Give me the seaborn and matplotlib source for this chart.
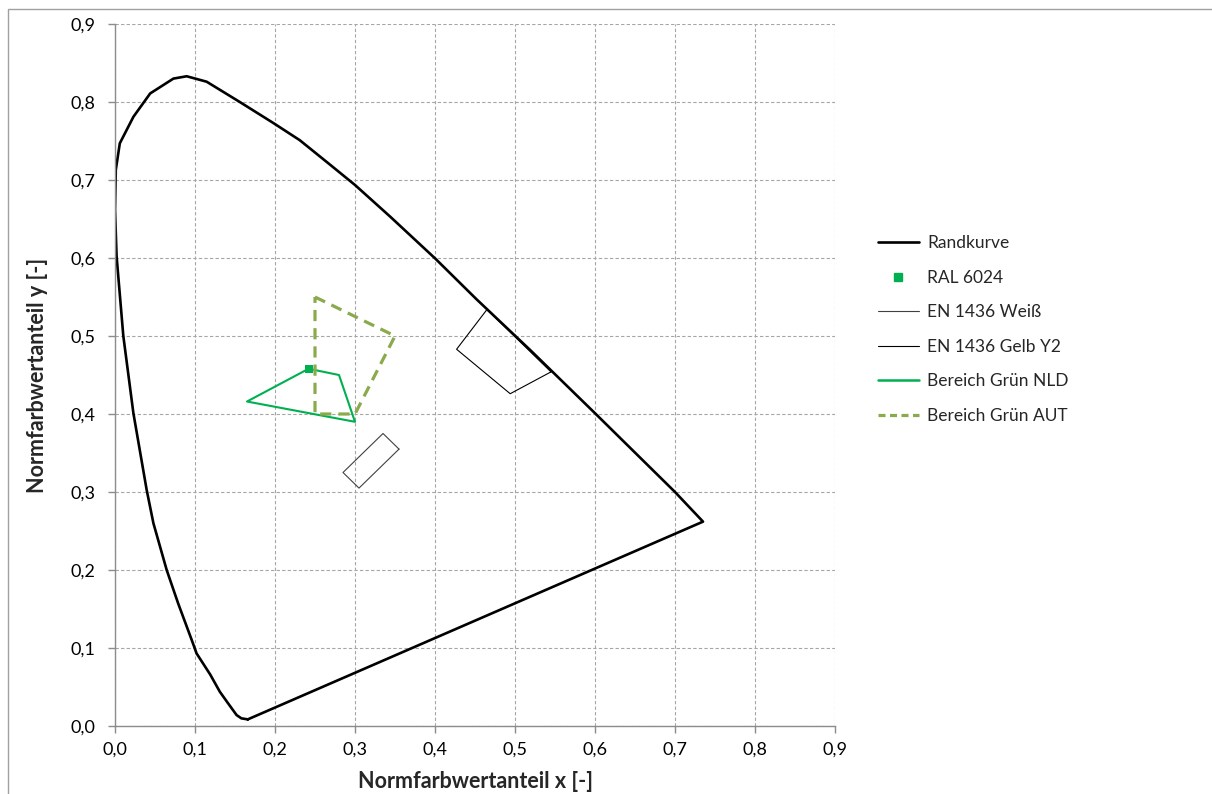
import matplotlib
matplotlib.use("Agg")
import matplotlib.pyplot as plt
import matplotlib.patches as mpatches
from matplotlib.lines import Line2D
from matplotlib.ticker import FuncFormatter
import seaborn as sns
import pandas as pd

# --- Data ---------------------------------------------------------------
# Spectral locus (Randkurve), closed by the purple line
rand_x = [0.166, 0.158, 0.152, 0.140, 0.131, 0.119, 0.102, 0.096, 0.079,
          0.0646, 0.048, 0.0396, 0.023, 0.0104, 0.002, 0.000, 0.001, 0.006,
          0.023, 0.044, 0.073, 0.0896, 0.1146, 0.156, 0.198, 0.231, 0.269,
          0.300, 0.344, 0.400, 0.452, 0.519, 0.600, 0.700, 0.735, 0.166]
rand_y = [0.0085, 0.0098, 0.014, 0.031, 0.044, 0.066, 0.093, 0.110, 0.157,
          0.200, 0.260, 0.3026, 0.401, 0.500, 0.602, 0.662, 0.713, 0.747,
          0.781, 0.811, 0.830, 0.833, 0.826, 0.800, 0.773, 0.751, 0.7195,
          0.6936, 0.653, 0.5996, 0.547, 0.482, 0.401, 0.300, 0.262, 0.0085]

ral_x = [0.242]
ral_y = [0.458]

weiss_x = [0.355, 0.305, 0.285, 0.335, 0.355]
weiss_y = [0.355, 0.305, 0.325, 0.375, 0.355]

gelb_x = [0.545, 0.494, 0.427, 0.465, 0.545]
gelb_y = [0.454, 0.426, 0.483, 0.534, 0.454]

nld_x = [0.242, 0.280, 0.300, 0.165, 0.242]
nld_y = [0.458, 0.450, 0.390, 0.416, 0.458]

aut_x = [0.250, 0.350, 0.300, 0.250, 0.250]
aut_y = [0.550, 0.500, 0.400, 0.400, 0.550]

ticks = [0.0, 0.1, 0.2, 0.3, 0.4, 0.5, 0.6, 0.7, 0.8, 0.9]

# --- Style --------------------------------------------------------------
sns.set_theme(style="white")
plt.rcParams['font.family'] = ['Lato', 'DejaVu Sans']

GREEN = "#00B050"
OLIVE = "#8AAA4C"
GRID = "#A6A6A6"
SPINE = "#8C8C8C"

fig = plt.figure(figsize=(12.12, 7.94), dpi=100)
ax = fig.add_axes([115/1212, 1-726/794, 720/1212, 702/794])

# outer chart border
fig.patches.append(mpatches.Rectangle((8/1212, -0.5), 2.0, 1 - 9/794 + 0.5,
                                      transform=fig.transFigure, fill=False,
                                      edgecolor="#A0A0A0", linewidth=1.0))

def poly(x, y, **kw):
    df = pd.DataFrame({"x": x, "y": y})
    sns.lineplot(data=df, x="x", y="y", sort=False, estimator=None, ax=ax, **kw)

poly(rand_x, rand_y, color="black", linewidth=1.9, label="Randkurve")
ax.lines[-1].set_solid_joinstyle("round")
poly(weiss_x, weiss_y, color="#404040", linewidth=0.8, label="EN 1436 Weiß")
poly(gelb_x, gelb_y, color="black", linewidth=0.8, label="EN 1436 Gelb Y2")
poly(nld_x, nld_y, color=GREEN, linewidth=1.5, label="Bereich Grün NLD")
sns.lineplot(x=aut_x, y=aut_y, sort=False, estimator=None, ax=ax,
             color=OLIVE, linewidth=2.3, label="Bereich Grün AUT")
ax.lines[-1].set_dashes([3.5, 2.2])
sns.scatterplot(x=ral_x, y=ral_y, ax=ax, marker="s", s=40, color=GREEN,
                edgecolor=GREEN, linewidth=0, zorder=5, label="RAL 6024")

ax.set_xlim(0, 0.9)
ax.set_ylim(0, 0.9)
ax.set_xticks(ticks)
ax.set_yticks(ticks)
fmt = FuncFormatter(lambda v, p: f"{v:.1f}".replace(".", ","))
ax.xaxis.set_major_formatter(fmt)
ax.yaxis.set_major_formatter(fmt)
ax.tick_params(axis="both", which="major", labelsize=13, length=5,
               width=1, color=SPINE, direction="out", labelcolor="black",
               bottom=True, left=True, pad=6)
ax.tick_params(axis="y", pad=9)
ax.grid(True, linestyle=(0, (3, 2)), color=GRID, linewidth=0.8)
ax.set_axisbelow(True)
for s in ["top", "right"]:
    ax.spines[s].set_visible(False)
for s in ["left", "bottom"]:
    ax.spines[s].set_color(SPINE)
    ax.spines[s].set_linewidth(1.0)

ax.set_xlabel("Normfarbwertanteil x [-]", fontsize=15.5, fontweight="bold",
              labelpad=10)
ax.set_ylabel("Normfarbwertanteil y [-]", fontsize=15.5, fontweight="bold",
              labelpad=16)

# legend in reference order
handles = [
    Line2D([], [], color="black", linewidth=1.9),
    Line2D([], [], color=GREEN, marker="s", linestyle="none", markersize=6),
    Line2D([], [], color="#404040", linewidth=0.8),
    Line2D([], [], color="black", linewidth=0.8),
    Line2D([], [], color=GREEN, linewidth=1.8),
    Line2D([], [], color=OLIVE, linewidth=2.3, dashes=[2.2, 1.4]),
]
labels = ["Randkurve", "RAL 6024", "EN 1436 Weiß", "EN 1436 Gelb Y2",
          "Bereich Grün NLD", "Bereich Grün AUT"]
ax.legend(handles, labels, loc="upper left",
          bbox_to_anchor=(878/1212, 1 - 235/794), bbox_transform=fig.transFigure,
          frameon=False, fontsize=12.5, handlelength=2.35, handletextpad=0.5,
          labelspacing=1.07, borderaxespad=0, borderpad=0)

fig.savefig("out.png", dpi=100)
